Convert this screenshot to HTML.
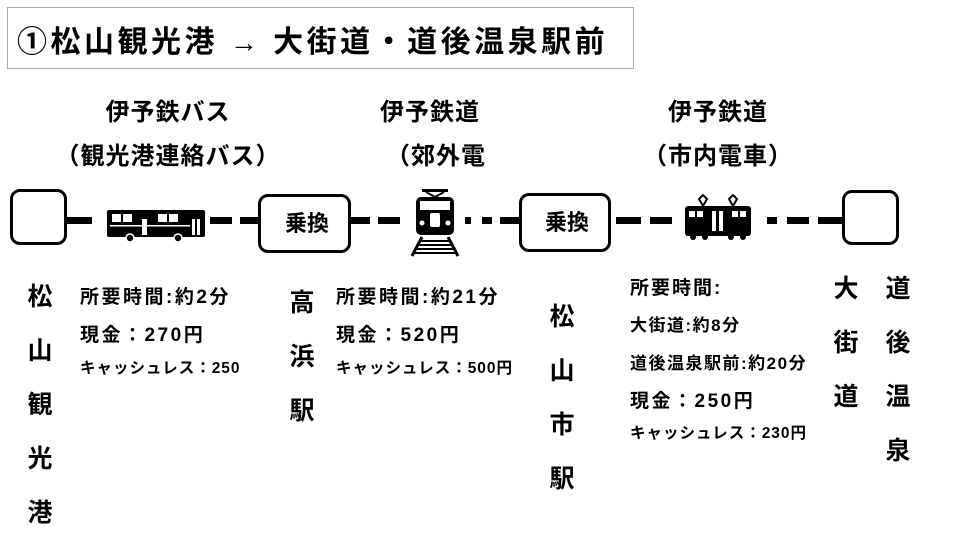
<!DOCTYPE html>
<html><head><meta charset="utf-8"><style>
body{margin:0;width:960px;height:540px;background:#fff;position:relative;overflow:hidden;font-family:"Liberation Sans","Noto Sans CJK JP",sans-serif;font-weight:bold;color:#000}
.a{position:absolute;white-space:nowrap;line-height:1}
.c{transform:translateX(-50%)}
.box{position:absolute;border:3px solid #000;border-radius:10px;background:#fff;box-sizing:border-box}
.d{position:absolute;background:#000;height:7px;top:217px}
.v{position:absolute;font-size:25px;line-height:27px;text-align:center;width:30px}
.i1{font-size:19px;letter-spacing:2.5px}
.i2{font-size:15.5px;letter-spacing:1px}
.i3{font-size:17px;letter-spacing:1.5px}
</style></head><body>
<div style="position:absolute;left:7px;top:7px;width:627px;height:62px;border:1px solid #aaa;box-sizing:border-box"></div>
<div class="a" style="left:17px;top:28px;font-size:30px;letter-spacing:3.5px">①松山観光港 <span style="font-size:28px">→</span> 大街道・道後温泉駅前</div>

<div class="a c" style="left:168px;top:101px;font-size:24px;letter-spacing:1px">伊予鉄バス</div>
<div class="a c" style="left:168px;top:145px;font-size:24px;letter-spacing:1px">（観光港連絡バス）</div>
<div class="a c" style="left:430px;top:101px;font-size:24px;letter-spacing:1px">伊予鉄道</div>
<div class="a c" style="left:436px;top:145px;font-size:24px;letter-spacing:1px">（郊外電</div>
<div class="a c" style="left:718px;top:101px;font-size:24px;letter-spacing:1px">伊予鉄道</div>
<div class="a c" style="left:718px;top:145px;font-size:24px;letter-spacing:1px">（市内電車）</div>

<div class="d" style="left:66px;width:26px"></div>
<div class="d" style="left:210px;width:22px"></div>
<div class="d" style="left:240px;width:18px"></div>
<div class="d" style="left:350px;width:20px"></div>
<div class="d" style="left:378px;width:22px"></div>
<div class="d" style="left:465px;width:6px"></div>
<div class="d" style="left:482px;width:10px"></div>
<div class="d" style="left:500px;width:19px"></div>
<div class="d" style="left:616px;width:25px"></div>
<div class="d" style="left:650px;width:22px"></div>
<div class="d" style="left:767px;width:10px"></div>
<div class="d" style="left:787px;width:22px"></div>
<div class="d" style="left:818px;width:24px"></div>

<div class="box" style="left:10px;top:189px;width:57px;height:56px"></div>
<div class="box" style="left:842px;top:190px;width:57px;height:55px"></div>
<div class="box" style="left:258px;top:194px;width:93px;height:59px"><div class="a c" style="left:46px;top:16px;font-size:22px">乗換</div></div>
<div class="box" style="left:519px;top:193px;width:92px;height:59px"><div class="a c" style="left:45px;top:16px;font-size:22px">乗換</div></div>

<svg style="position:absolute;left:106px;top:208px" width="102" height="36" viewBox="0 0 102 36">
<rect x="1" y="2" width="98" height="27" rx="2" fill="#000"/>
<rect x="6" y="6" width="9" height="8" fill="#fff"/><rect x="17" y="6" width="9" height="8" fill="#fff"/>
<rect x="36" y="11" width="5" height="16" fill="#fff"/>
<rect x="52" y="6" width="9" height="8" fill="#fff"/><rect x="63" y="6" width="9" height="8" fill="#fff"/>
<rect x="86" y="11" width="3" height="16" fill="#fff"/><rect x="91" y="11" width="3" height="16" fill="#fff"/>
<rect x="4" y="17" width="80" height="1.5" fill="#fff"/>
<circle cx="24" cy="30" r="4" fill="#000" stroke="#fff" stroke-width="1.5"/>
<circle cx="72" cy="30" r="4" fill="#000" stroke="#fff" stroke-width="1.5"/>
</svg>
<svg style="position:absolute;left:408px;top:187px" width="54" height="70" viewBox="0 0 54 70">
<rect x="14" y="2" width="26" height="3" fill="#000"/><path d="M18 5 L27 10 L36 5" stroke="#000" stroke-width="2" fill="none"/>
<rect x="8" y="10" width="38" height="38" rx="5" fill="#000"/>
<rect x="12" y="14" width="30" height="9" fill="#fff"/>
<rect x="22" y="26" width="10" height="14" rx="2" fill="#fff"/>
<circle cx="14" cy="36" r="2.5" fill="#fff"/><circle cx="40" cy="36" r="2.5" fill="#fff"/>
<path d="M14 50 L4 69 M40 50 L50 69" stroke="#000" stroke-width="3"/>
<path d="M12 54 H42 M10 58 H44 M8 62 H46 M6 66 H48" stroke="#000" stroke-width="2"/>
</svg>
<svg style="position:absolute;left:683px;top:194px" width="70" height="48" viewBox="0 0 70 48">
<path d="M20 12 L16 5 L20 1 L24 5 Z M50 12 L46 5 L50 1 L54 5 Z" fill="none" stroke="#000" stroke-width="2"/>
<rect x="2" y="12" width="66" height="30" rx="3" fill="#000"/>
<rect x="6" y="17" width="6" height="6" fill="#fff"/><rect x="14" y="17" width="6" height="6" fill="#fff"/>
<rect x="49" y="17" width="6" height="6" fill="#fff"/><rect x="57" y="17" width="6" height="6" fill="#fff"/>
<rect x="29" y="17" width="4" height="20" fill="#fff"/><rect x="36" y="17" width="4" height="20" fill="#fff"/>
<circle cx="10" cy="43" r="3" fill="#000"/><circle cx="22" cy="43" r="3" fill="#000"/><circle cx="48" cy="43" r="3" fill="#000"/><circle cx="60" cy="43" r="3" fill="#000"/>
</svg>

<div class="v" style="left:25px;top:284px">松<br><br>山<br><br>観<br><br>光<br><br>港</div>
<div class="v" style="left:287px;top:290px">高<br><br>浜<br><br>駅</div>
<div class="v" style="left:547px;top:304px">松<br><br>山<br><br>市<br><br>駅</div>
<div class="v" style="left:831px;top:276px">大<br><br>街<br><br>道</div>
<div class="v" style="left:883px;top:276px">道<br><br>後<br><br>温<br><br>泉</div>

<div class="a i1" style="left:80px;top:288px">所要時間:約2分</div>
<div class="a i1" style="left:80px;top:326px">現金：270円</div>
<div class="a i2" style="left:80px;top:361px">キャッシュレス：250</div>

<div class="a i1" style="left:336px;top:288px">所要時間:約21分</div>
<div class="a i1" style="left:336px;top:326px">現金：520円</div>
<div class="a i2" style="left:336px;top:361px">キャッシュレス：500円</div>

<div class="a i1" style="left:630px;top:279px;letter-spacing:2px">所要時間:</div>
<div class="a i3" style="left:630px;top:317px">大街道:約8分</div>
<div class="a i3" style="left:630px;top:355px">道後温泉駅前:約20分</div>
<div class="a i1" style="left:630px;top:392px">現金：250円</div>
<div class="a i2" style="left:630px;top:426px">キャッシュレス：230円</div>
</body></html>
